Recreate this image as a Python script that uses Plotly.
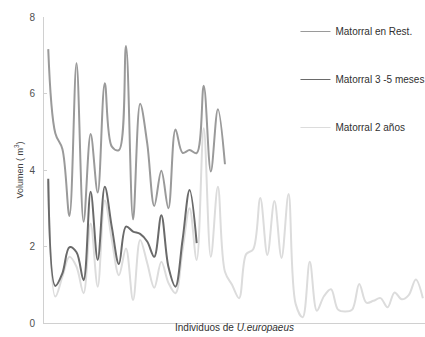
import plotly.graph_objects as go

individuos = list(range(54))

rest_name = "Matorral en Rest."
meses_name = "Matorral 3 -5 meses"
anos_name = "Matorral 2 años"

rest_vals = [7.16, 4.96, 4.55, 2.8, 6.79, 2.65, 4.94, 3.41, 6.27, 4.61,
             4.52, 7.24, 2.71, 5.73, 4.7, 3.06, 3.98, 3.0, 5.06, 4.45,
             4.52, 4.44, 6.2, 3.96, 5.59, 4.15]

meses_vals = [3.77, 0.97, 1.3, 1.98, 1.85, 1.12, 3.43, 1.65, 3.56, 2.5,
              1.54, 2.52, 2.39, 2.33, 2.13, 1.73, 2.82, 1.47, 0.95, 2.17,
              3.48, 2.09]

anos_vals = [3.7, 0.69, 1.21, 1.73, 1.47, 0.78, 2.6, 0.95, 3.2, 2.17,
             1.25, 1.95, 0.6, 2.17, 1.57, 0.92, 1.6, 1.05, 0.78, 1.9,
             3.0, 1.65, 5.09, 1.73, 3.56, 1.34, 1.0, 0.65, 1.8, 1.93,
             3.27, 1.78, 3.19, 1.7, 3.37, 0.5, 0.15, 1.6, 0.32, 0.7,
             0.88, 0.35, 0.3, 0.35, 1.02, 0.53, 0.58, 0.65, 0.41, 0.8,
             0.62, 0.73, 1.14, 0.65]

y_ticks = [0, 2, 4, 6, 8]

colors = {rest_name: "#9a9a9a", meses_name: "#6a6a6a", anos_name: "#dcdcdc"}
ranks = {rest_name: 1, meses_name: 2, anos_name: 3}

fig = go.Figure()
# data lines (light series drawn first so it sits beneath the others)
for name, vals in [(anos_name, anos_vals), (rest_name, rest_vals), (meses_name, meses_vals)]:
    fig.add_trace(go.Scatter(
        x=individuos[:len(vals)], y=vals, name=name, mode="lines",
        line=dict(color=colors[name], width=2, shape="spline", smoothing=1.0),
        showlegend=False, legendgroup=name,
    ))
# legend entries with thin sample lines
for name in [rest_name, meses_name, anos_name]:
    fig.add_trace(go.Scatter(
        x=[None], y=[None], name=name, mode="lines",
        line=dict(color=colors[name], width=1.2),
        showlegend=True, legendgroup=name, legendrank=ranks[name],
    ))

fig.update_layout(
    width=425, height=337,
    margin=dict(l=44, r=0, t=17, b=14, autoexpand=False),
    paper_bgcolor="white", plot_bgcolor="white",
    font=dict(family="Liberation Sans, Arial, sans-serif", size=10, color="#404040"),
    showlegend=True,
    legend=dict(
        x=0.66, y=1.0, xanchor="left", yanchor="top",
        font=dict(size=10, color="#303030"),
        tracegroupgap=29, itemwidth=30, traceorder="grouped",
        bgcolor="rgba(0,0,0,0)",
    ),
    xaxis=dict(
        range=[-0.6, 53.3], showgrid=False, zeroline=False,
        showline=True, linecolor="#d0d0d0", linewidth=1,
        showticklabels=False, ticks="",
        title=dict(text="Individuos de <i>U.europaeus</i>",
                   font=dict(size=10, color="#303030"), standoff=0),
    ),
    yaxis=dict(
        range=[0, 8], tickvals=y_ticks, showgrid=False, zeroline=False,
        showline=True, linecolor="#d0d0d0", linewidth=1,
        ticks="inside", ticklen=3, tickcolor="#d0d0d0",
        ticklabelstandoff=6,
        tickfont=dict(size=10, color="#505050"),
        title=dict(text="Volumen ( m<sup>3</sup>)",
                   font=dict(size=9, color="#404040"), standoff=4),
    ),
)

fig.write_html("out.html")
